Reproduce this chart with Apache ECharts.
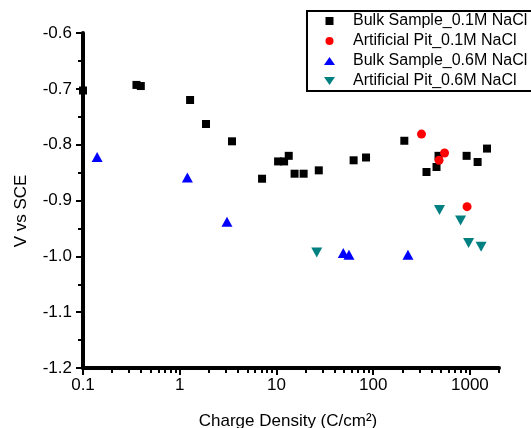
<!DOCTYPE html>
<html>
<head>
<meta charset="utf-8">
<script src="https://cdn.jsdelivr.net/npm/echarts@6/dist/echarts.min.js"></script>
<style>
  html, body { margin: 0; padding: 0; background: #ffffff; }
  #chart { width: 531px; height: 428px; }
</style>
</head>
<body>
<div id="chart"></div>
<script>
// ---- data ----
var seriesNames = [
  'Bulk Sample_0.1M NaCl',
  'Artificial Pit_0.1M NaCl',
  'Bulk Sample_0.6M NaCl',
  'Artificial Pit_0.6M NaCl'
];

var bulk01X = [0.1, 0.357, 0.396, 1.28, 1.87, 3.47, 7.1, 10.4, 12.0, 13.4, 15.4, 19.1, 27.4, 62.8, 84.4, 210, 356, 452, 474, 925, 1202, 1504];
var bulk01Y = [-0.703, -0.693, -0.695, -0.720, -0.763, -0.794, -0.861, -0.830, -0.830, -0.820, -0.852, -0.852, -0.846, -0.828, -0.823, -0.793, -0.849, -0.840, -0.820, -0.820, -0.831, -0.807];

var pit01X = [316, 547, 480, 935];
var pit01Y = [-0.781, -0.815, -0.828, -0.911];

var bulk06X = [0.140, 1.20, 3.08, 49.1, 56.2, 229];
var bulk06Y = [-0.822, -0.859, -0.938, -0.994, -0.997, -0.997];

var pit06X = [26.1, 485, 801, 970, 1306];
var pit06Y = [-0.993, -0.917, -0.936, -0.976, -0.983];

var xMajorTicks = [0.1, 1, 10, 100, 1000];
var xMinorTicks = [0.2, 0.3, 0.4, 0.5, 0.6, 0.7, 0.8, 0.9,
                   2, 3, 4, 5, 6, 7, 8, 9,
                   20, 30, 40, 50, 60, 70, 80, 90,
                   200, 300, 400, 500, 600, 700, 800, 900, 2000];

var xTitle = 'Charge Density (C/cm\u00B2)';
var yTitle = 'V vs SCE';

// ---- build ----
function pairs(xs, ys) {
  var out = [];
  for (var i = 0; i < xs.length; i++) out.push([xs[i], ys[i]]);
  return out;
}

var FONT = '"Liberation Sans", Arial, sans-serif';
var DOWN_TRI = 'path://M0,0L11,0L5.5,8Z';
var SQUARE = 'path://M0,0L1,0L1,1L0,1Z';

var chart = echarts.init(document.getElementById('chart'), null, { renderer: 'canvas' });

var option = {
  backgroundColor: '#ffffff',
  animation: false,
  textStyle: { fontFamily: FONT },
  grid: { left: 83, right: 32, top: 33, bottom: 60, containLabel: false, outerBoundsMode: 'none' },
  legend: {
    orient: 'vertical',
    left: 307,
    top: 11,
    padding: [1, 40, 1, 17],
    itemWidth: 11,
    itemHeight: 8,
    itemGap: 2,
    borderColor: '#000',
    borderWidth: 2,
    symbolKeepAspect: true,
    selectedMode: false,
    itemStyle: { opacity: 1 },
    textStyle: { fontFamily: FONT, fontSize: 16, color: '#000', lineHeight: 18, padding: [0, 0, 0, 13] },
    data: [
      { name: seriesNames[0], icon: SQUARE },
      { name: seriesNames[1], icon: 'circle' },
      { name: seriesNames[2], icon: 'triangle' },
      { name: seriesNames[3], icon: DOWN_TRI }
    ]
  },
  xAxis: [
    {
      type: 'log',
      logBase: 10,
      min: 0.1,
      max: 2000,
      position: 'bottom',
      name: xTitle,
      nameLocation: 'middle',
      nameGap: 45,
      nameTextStyle: { fontFamily: FONT, fontSize: 17, color: '#000', padding: [0, 6, 0, 0] },
      axisLine: { show: true, onZero: false, lineStyle: { color: '#000', width: 4 } },
      axisTick: { show: true, customValues: xMajorTicks, length: 7, lineStyle: { color: '#000', width: 2 } },
      axisLabel: {
        show: true,
        customValues: xMajorTicks,
        margin: 9,
        fontFamily: FONT,
        fontSize: 17,
        color: '#000',
        formatter: function (v) { return String(v); }
      },
      splitLine: { show: false },
      minorTick: { show: false },
      minorSplitLine: { show: false }
    },
    {
      type: 'log',
      logBase: 10,
      min: 0.1,
      max: 2000,
      position: 'bottom',
      axisLine: { show: false, onZero: false },
      axisTick: { show: true, customValues: xMinorTicks, length: 5, lineStyle: { color: '#000', width: 2 } },
      axisLabel: { show: false },
      splitLine: { show: false }
    }
  ],
  yAxis: {
    type: 'value',
    min: -1.2,
    max: -0.6,
    interval: 0.1,
    name: yTitle,
    nameLocation: 'middle',
    nameGap: 53,
    nameRotate: 90,
    nameTextStyle: { fontFamily: FONT, fontSize: 17, color: '#000', padding: [0, 21, 0, 0] },
    axisLine: { show: true, onZero: false, lineStyle: { color: '#000', width: 4 } },
    axisTick: { show: true, length: 7, lineStyle: { color: '#000', width: 2 } },
    minorTick: { show: true, splitNumber: 2, length: 5, lineStyle: { color: '#000', width: 2 } },
    axisLabel: {
      margin: 11,
      fontFamily: FONT,
      fontSize: 17,
      color: '#000',
      formatter: function (v) { return v.toFixed(1); }
    },
    splitLine: { show: false },
    minorSplitLine: { show: false }
  },
  series: [
    {
      name: seriesNames[0],
      type: 'scatter',
      xAxisIndex: 0,
      symbol: 'rect',
      symbolSize: 8,
      itemStyle: { color: '#000000', opacity: 1 },
      data: pairs(bulk01X, bulk01Y),
      z: 2
    },
    {
      name: seriesNames[1],
      type: 'scatter',
      xAxisIndex: 0,
      symbol: 'circle',
      symbolSize: 9,
      itemStyle: { color: '#ff0000', opacity: 1 },
      data: pairs(pit01X, pit01Y),
      z: 3
    },
    {
      name: seriesNames[2],
      type: 'scatter',
      xAxisIndex: 0,
      symbol: 'triangle',
      symbolSize: [11, 10],
      itemStyle: { color: '#0000ff', opacity: 1 },
      data: pairs(bulk06X, bulk06Y),
      z: 4
    },
    {
      name: seriesNames[3],
      type: 'scatter',
      xAxisIndex: 0,
      symbol: DOWN_TRI,
      symbolKeepAspect: false,
      symbolSize: [11, 10],
      itemStyle: { color: '#008080', opacity: 1 },
      data: pairs(pit06X, pit06Y),
      z: 5
    }
  ]
};

chart.setOption(option);
</script>
</body>
</html>
